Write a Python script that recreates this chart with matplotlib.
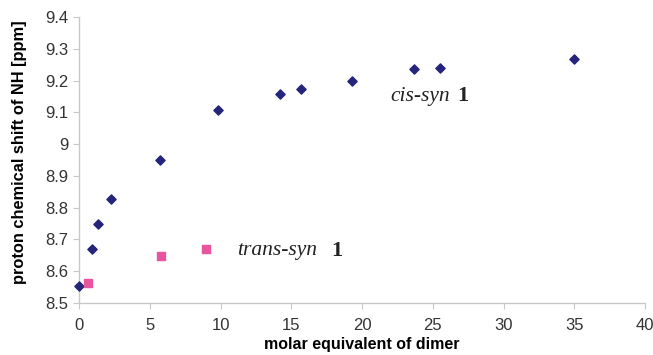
import matplotlib
matplotlib.use('Agg')
import matplotlib.pyplot as plt

# cis-syn 1
cis_x = [0.0, 0.9, 1.35, 2.25, 5.7, 9.8, 14.2, 15.7, 19.3, 23.7, 25.5, 35.0]
cis_y = [8.555, 8.67, 8.75, 8.828, 8.95, 9.107, 9.157, 9.173, 9.2, 9.236, 9.24, 9.267]

# trans-syn 1
trans_x = [0.65, 5.8, 9.0]
trans_y = [8.562, 8.647, 8.671]

xticks = [0, 5, 10, 15, 20, 25, 30, 35, 40]
yticks = [8.5, 8.6, 8.7, 8.8, 8.9, 9.0, 9.1, 9.2, 9.3, 9.4]
ytick_labels = ['8.5', '8.6', '8.7', '8.8', '8.9', '9', '9.1', '9.2', '9.3', '9.4']

plt.rcParams['font.family'] = ['Liberation Sans', 'DejaVu Sans']

fig = plt.figure(figsize=(6.53, 3.55), dpi=100)
ax = fig.add_axes([0.121, 0.1465, 0.867, 0.8055])

ax.scatter(cis_x, cis_y, marker='D', s=22, color='#24247a', zorder=3, clip_on=False)
ax.scatter(trans_x, trans_y, marker='s', s=38, color='#e8559f', zorder=3, clip_on=False)

ax.set_xlim(0, 40)
ax.set_ylim(8.5, 9.4)
ax.set_xticks(xticks)
ax.set_yticks(yticks)
ax.set_yticklabels(ytick_labels)

for s in ['top', 'right']:
    ax.spines[s].set_visible(False)
for s in ['left', 'bottom']:
    ax.spines[s].set_color('#c8c8c8')
    ax.spines[s].set_linewidth(1.0)
ax.tick_params(axis='both', colors='#c8c8c8', labelcolor='#333333', labelsize=12, length=4)
ax.tick_params(axis='x', pad=7)

ax.set_xlabel('molar equivalent of dimer', fontsize=11.5, fontweight='bold', labelpad=3)
ax.set_ylabel('proton chemical shift of NH [ppm]', fontsize=11.8, fontweight='bold')
ax.yaxis.set_label_coords(-0.092, 0.528)

serif = 'Liberation Serif'
ax.text(21.98, 9.15, 'cis-syn', fontsize=15.5, style='italic', family=serif, color='#222222', va='center')
ax.text(26.7, 9.15, '1', fontsize=16, fontweight='bold', family=serif, color='#222222', va='center')
ax.text(11.17, 8.665, 'trans-syn', fontsize=15.5, style='italic', family=serif, color='#222222', va='center')
ax.text(17.8, 8.665, '1', fontsize=16, fontweight='bold', family=serif, color='#222222', va='center')

plt.savefig('out.png', dpi=100)
